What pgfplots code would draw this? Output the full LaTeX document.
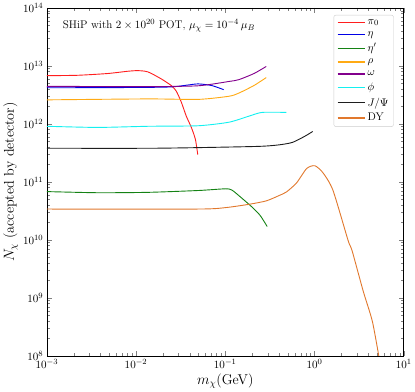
\documentclass[border=0pt]{standalone}
\usepackage{pgfplots}
\pgfplotsset{compat=1.18}
\definecolor{cpi}{RGB}{255,30,30}
\definecolor{ceta}{RGB}{0,0,230}
\definecolor{cetap}{RGB}{20,130,20}
\definecolor{crho}{RGB}{255,170,20}
\definecolor{comega}{RGB}{130,0,140}
\definecolor{cphi}{RGB}{20,240,240}
\definecolor{cjpsi}{RGB}{30,30,30}
\definecolor{cdy}{RGB}{225,120,45}
\begin{document}
\begin{tikzpicture}
\begin{axis}[
  width=353pt, height=344pt, scale only axis,
  xmode=log, ymode=log,
  xmin=1e-3, xmax=1e1,
  ymin=1e8, ymax=1e14,
  xtick={1e-3,1e-2,1e-1,1e0,1e1},
  ytick={1e8,1e9,1e10,1e11,1e12,1e13,1e14},
  tick align=inside,
  major tick length=5pt, minor tick length=3pt,
  tick label style={font=\fontsize{11}{13}\selectfont},
  xlabel={$m_\chi$(GeV)},
  ylabel={$N_\chi$ (accepted by detector)},
  label style={font=\fontsize{14}{16}\selectfont},
  xlabel style={yshift=2pt},
  ylabel style={yshift=-2pt},
  every axis plot/.append style={line width=0.9pt, smooth, tension=0.4},
  legend cell align=left,
  legend image code/.code={\draw[#1, line width=1.5pt, sharp plot] plot coordinates {(0pt,0pt) (27pt,0pt)};},
  legend style={at={(0.972,0.98)}, anchor=north east,
    draw=black!20, rounded corners=2pt, fill=white,
    font=\fontsize{11}{13}\selectfont,
    row sep=1.2pt, inner xsep=3pt, inner ysep=2pt,
    nodes={inner ysep=2.2pt}},
]
% pi0
\addplot[cpi] coordinates {
 (0.001,6.8e12) (0.0022,6.9e12) (0.0048,7.4e12) (0.0081,8.1e12) (0.0105,8.3e12)
 (0.0136,7.9e12) (0.0191,6.0e12) (0.0248,4.6e12) (0.0282,3.7e12) (0.0321,2.4e12)
 (0.0366,1.36e12) (0.0417,8.7e11) (0.0463,5.4e11) (0.0492,2.95e11)};
\addlegendentry{$\pi_0$}
% eta
\addplot[ceta] coordinates {
 (0.001,4.2e12) (0.01,4.25e12) (0.025,4.35e12) (0.0386,4.7e12) (0.05,4.9e12)
 (0.0703,4.6e12) (0.096,3.9e12)};
\addlegendentry{$\eta$}
% eta'
\addplot[cetap] coordinates {
 (0.001,6.8e10) (0.0037,6.5e10) (0.0136,6.6e10) (0.05,7.1e10) (0.101,7.6e10)
 (0.119,7.2e10) (0.142,5.8e10) (0.2,3.67e10) (0.246,2.64e10) (0.295,1.7e10)};
\addlegendentry{$\eta'$}
% rho
\addplot[crho] coordinates {
 (0.001,2.6e12) (0.0136,2.7e12) (0.05,2.65e12) (0.11,3.0e12) (0.142,3.4e12)
 (0.21,4.6e12) (0.288,6.3e12)};
\addlegendentry{$\rho$}
% omega
\addplot[comega] coordinates {
 (0.001,4.45e12) (0.0136,4.4e12) (0.05,4.55e12) (0.11,5.4e12) (0.142,5.8e12)
 (0.21,7.4e12) (0.288,9.8e12)};
\addlegendentry{$\omega$}
% phi
\addplot[cphi] coordinates {
 (0.001,9.1e11) (0.0037,8.7e11) (0.0136,9.1e11) (0.05,9.3e11) (0.11,1.07e12)
 (0.184,1.36e12) (0.259,1.58e12) (0.485,1.58e12)};
\addlegendentry{$\phi$}
% J/Psi
\addplot[cjpsi] coordinates {
 (0.001,3.8e11) (0.0136,3.8e11) (0.05,3.9e11) (0.24,4.1e11) (0.40,4.35e11)
 (0.567,4.8e11) (0.776,6.1e11) (0.955,7.4e11)};
\addlegendentry{$J/\Psi$}
% DY
\addplot[cdy] coordinates {
 (0.001,3.4e10) (0.05,3.4e10) (0.101,3.6e10) (0.184,4.1e10) (0.288,4.7e10)
 (0.40,5.8e10) (0.485,6.7e10) (0.63,9.6e10) (0.817,1.7e11) (1.007,1.9e11)
 (1.239,1.45e11) (1.61,7.2e10) (2.38,9.8e9) (2.64,6.5e9) (3.52,1.3e9)
 (4.46,3.9e8) (5.35,8.5e7)};
\addlegendentry{DY}
\node[anchor=west, font=\fontsize{11}{13}\selectfont] at (rel axis cs:0.035,0.95)
  {SHiP with $2\times10^{20}$ POT, $\mu_\chi=10^{-4}\,\mu_B$};
\end{axis}
\end{tikzpicture}
\end{document}
